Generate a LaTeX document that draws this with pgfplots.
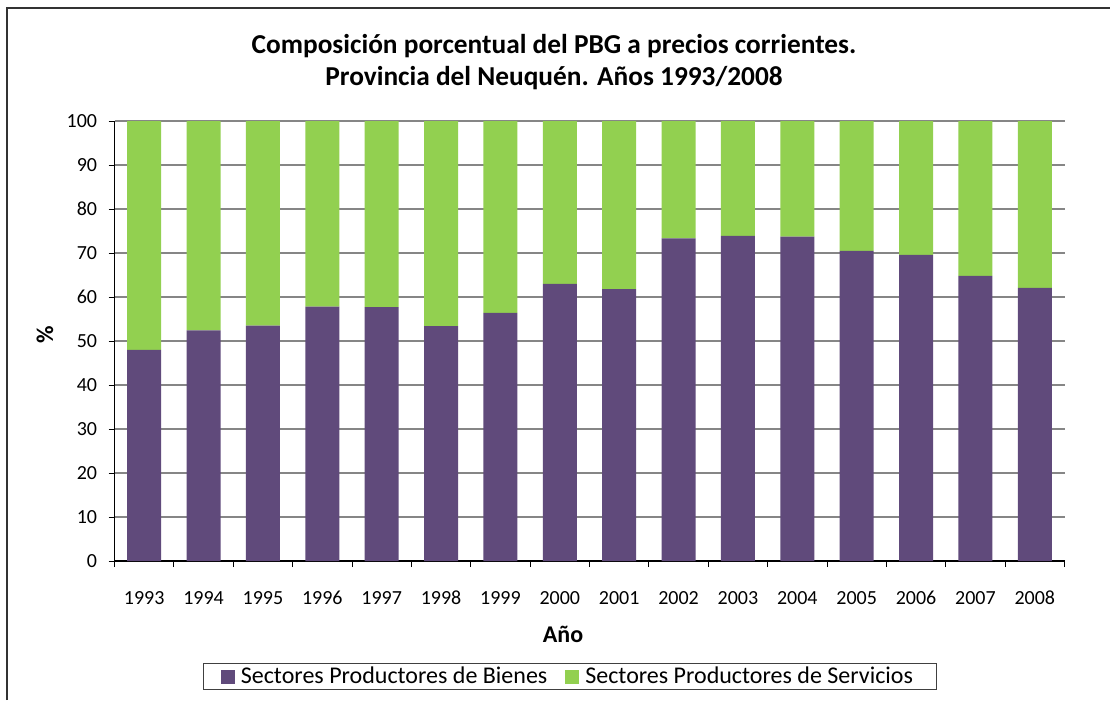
\documentclass[border=0pt]{standalone}
\usepackage{pgfplots}
\pgfplotsset{compat=1.18}
\usepackage{fontspec}
\setmainfont{Carlito}
\definecolor{bienes}{HTML}{604A7B}
\definecolor{servicios}{HTML}{92D050}
\definecolor{gridgray}{HTML}{868686}
\begin{document}
\begin{tikzpicture}[x=0.75pt,y=-0.75pt]
\path[use as bounding box] (0,0) rectangle (1110,700);
\draw[line width=1.5pt, color=black!80] (7,700) -- (7,8) -- (1110,8);
\begin{axis}[
 at={(85.875pt,-420.75pt)}, anchor=south west,
 scale only axis, width=712.5pt, height=330pt,
 ybar stacked, bar width=25.5pt,
 xmin=-0.5, xmax=15.5, ymin=0, ymax=100,
 ytick={0,10,...,100},
 xtick={0,...,15},
 xticklabels={1993,1994,1995,1996,1997,1998,1999,2000,2001,2002,2003,2004,2005,2006,2007,2008},
 minor xtick={-0.5,0.5,...,15.5},
 major x tick style={draw=none},
 tick align=outside,
 major tick length=4.5pt, minor tick length=4.5pt,
 tick style={black, line width=0.75pt},
 axis x line*=bottom, axis y line*=left,
 axis line style={black, line width=1pt, -},
 ymajorgrids, grid style={gridgray, line width=1pt},
 /pgf/number format/assume math mode=true,
 tick label style={font=\fontsize{15}{18}\selectfont},
 xticklabel style={yshift=-14.5pt},
 yticklabel style={xshift=-5pt},
 legend style={at={(0.0932,-0.2625)}, anchor=west, draw=black!75, line width=0.75pt,
   font=\fontsize{18}{21}\selectfont, inner xsep=13pt, inner ysep=1pt,
   nodes={inner xsep=4.5pt, inner ysep=2pt},
   /tikz/every even column/.append style={column sep=9pt}},
 legend columns=2,
 legend image code/.code={\fill[#1] (0pt,-5.25pt) rectangle (10.5pt,5.25pt);},
]
\addplot[fill=bienes, draw=none] coordinates {(0,48.0) (1,52.4) (2,53.5) (3,57.8) (4,57.7) (5,53.4) (6,56.4) (7,63.0) (8,61.8) (9,73.3) (10,73.9) (11,73.7) (12,70.5) (13,69.6) (14,64.8) (15,62.1)};
\addplot[fill=servicios, draw=none] coordinates {(0,52.0) (1,47.6) (2,46.5) (3,42.2) (4,42.3) (5,46.6) (6,43.6) (7,37.0) (8,38.2) (9,26.7) (10,26.1) (11,26.3) (12,29.5) (13,30.4) (14,35.2) (15,37.9)};
\legend{Sectores Productores de Bienes, Sectores Productores de Servicios}
\end{axis}
\node[align=center, font=\bfseries\fontsize{20.5}{24}\selectfont] at (554,62) {Composición porcentual del PBG a precios corrientes.\\Provincia del Neuquén. Años 1993/2008};
\node[rotate=90, font=\bfseries\fontsize{18}{21}\selectfont] at (45,335) {\%};
\node[font=\bfseries\fontsize{18}{21}\selectfont] at (563,634) {Año};
\end{tikzpicture}
\end{document}
